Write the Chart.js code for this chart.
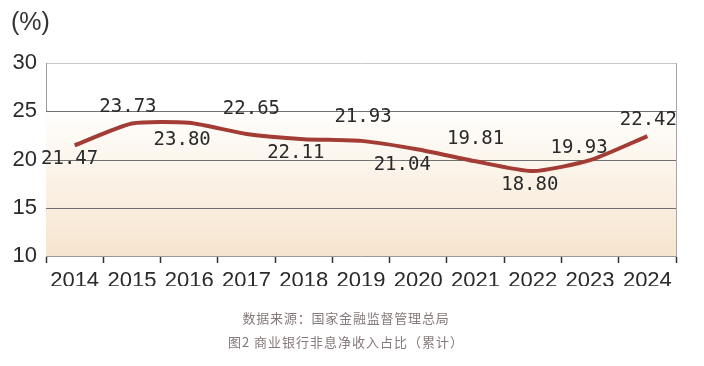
<!DOCTYPE html>
<html>
<head>
<meta charset="utf-8">
<script src="https://cdn.jsdelivr.net/npm/chart.js@4"></script>
<style>
  body { margin: 0; background: #fff; }
  #wrap { position: relative; width: 704px; height: 366px; }
  .cap { position: absolute; left: 0; width: 704px; text-align: center; font-family: "Noto Sans CJK SC", sans-serif; color: #85797a; font-size: 13px; }
</style>
</head>
<body>
<div id="wrap">
  <canvas id="myChart" width="704" height="366"></canvas>
  <div class="cap" style="top:308px; left:-6px; letter-spacing:0.8px;">数据来源：国家金融监督管理总局</div>
  <div class="cap" style="top:332px; left:-6px; letter-spacing:1px;">图2&nbsp;商业银行非息净收入占比（累计）</div>
</div>
<script>
// datos del gráfico
const years = ['2014', '2015', '2016', '2017', '2018', '2019', '2020', '2021', '2022', '2023', '2024'];
const ratio = [21.47, 23.73, 23.80, 22.65, 22.11, 21.93, 21.04, 19.81, 18.80, 19.93, 22.42];
const yTicks = [10, 15, 20, 25, 30];

// desplazamiento de cada etiqueta respecto a su punto
const labelOffsets = [[-5, 14], [-4, -16], [-7, 17], [5, -25], [-8, 14], [2, -24], [-16, 16], [0, -22], [-3, 14], [-11, -12], [1, -16]];

//* fondo degradado del área + marco derecho + etiquetas
const extras = {
  id: 'extras',
  beforeDatasetsDraw(chart) {
    const { ctx, chartArea: a, scales } = chart;
    const y25 = scales.y.getPixelForValue(25);
    const g = ctx.createLinearGradient(0, y25, 0, a.bottom);
    g.addColorStop(0, '#fffefc');
    g.addColorStop(1, '#f6e5ce');
    ctx.save();
    ctx.fillStyle = g;
    ctx.fillRect(a.left, y25, a.right - a.left, a.bottom - y25);
    // redraw grid lines over the gradient
    ctx.strokeStyle = '#707070';
    ctx.lineWidth = 1;
    [15, 20, 25].forEach(v => {
      const y = Math.round(scales.y.getPixelForValue(v)) + 0.5;
      ctx.beginPath();
      ctx.moveTo(a.left, y);
      ctx.lineTo(a.right, y);
      ctx.stroke();
    });
    ctx.strokeStyle = '#a8a8a8';
    ctx.beginPath();
    ctx.moveTo(a.right + 0.5, a.top);
    ctx.lineTo(a.right + 0.5, a.bottom);
    ctx.stroke();
    ctx.restore();
  },
  afterDatasetsDraw(chart) {
    const { ctx } = chart;
    const meta = chart.getDatasetMeta(0);
    ctx.save();
    ctx.font = '19px "DejaVu Sans Mono"';
    ctx.fillStyle = '#2a2a2a';
    ctx.textAlign = 'center';
    ctx.textBaseline = 'middle';
    meta.data.forEach((pt, i) => {
      const o = labelOffsets[i];
      ctx.fillText(ratio[i].toFixed(2), pt.x + o[0], pt.y + o[1]);
    });
    ctx.font = '25px "Liberation Sans"';
    ctx.textAlign = 'left';
    ctx.fillStyle = '#333';
    ctx.fillText('(%)', 11, 23);
    ctx.restore();
  }
};

const ctx = document.getElementById('myChart');

const myChart = new Chart(ctx, {
  type: 'line',
  data: {
    labels: years,
    datasets: [{
      data: ratio,
      borderColor: '#a23c35',
      borderWidth: 4,
      pointRadius: 0,
      tension: 0.2,
      fill: false
    }]
  },
  options: {
    responsive: false,
    animation: false,
    layout: { padding: { left: 0, right: 28, top: 63, bottom: 80 } },
    plugins: { legend: { display: false }, tooltip: { enabled: false } },
    scales: {
      x: {
        offset: true,
        afterFit: s => { s.height = 30; },
        grid: { offset: true, drawOnChartArea: false, drawTicks: true, tickLength: 7, color: '#333', tickWidth: 1.5 },
        border: { color: '#999' },
        ticks: { color: '#2a2a2a', font: { family: 'Liberation Sans', size: 22 }, padding: 5 }
      },
      y: {
        min: 10,
        max: 30,
        afterFit: s => { s.width = 46; },
        afterBuildTicks: s => { s.ticks = yTicks.map(v => ({ value: v })); },
        grid: {
          drawTicks: false,
          color: c => c.tick.value === 30 ? '#c8c8c8' : 'rgba(0,0,0,0)'
        },
        border: { color: '#999' },
        ticks: { color: '#2a2a2a', font: { family: 'Liberation Sans', size: 22 }, padding: 9 }
      }
    }
  },
  plugins: [extras]
});
</script>
</body>
</html>
